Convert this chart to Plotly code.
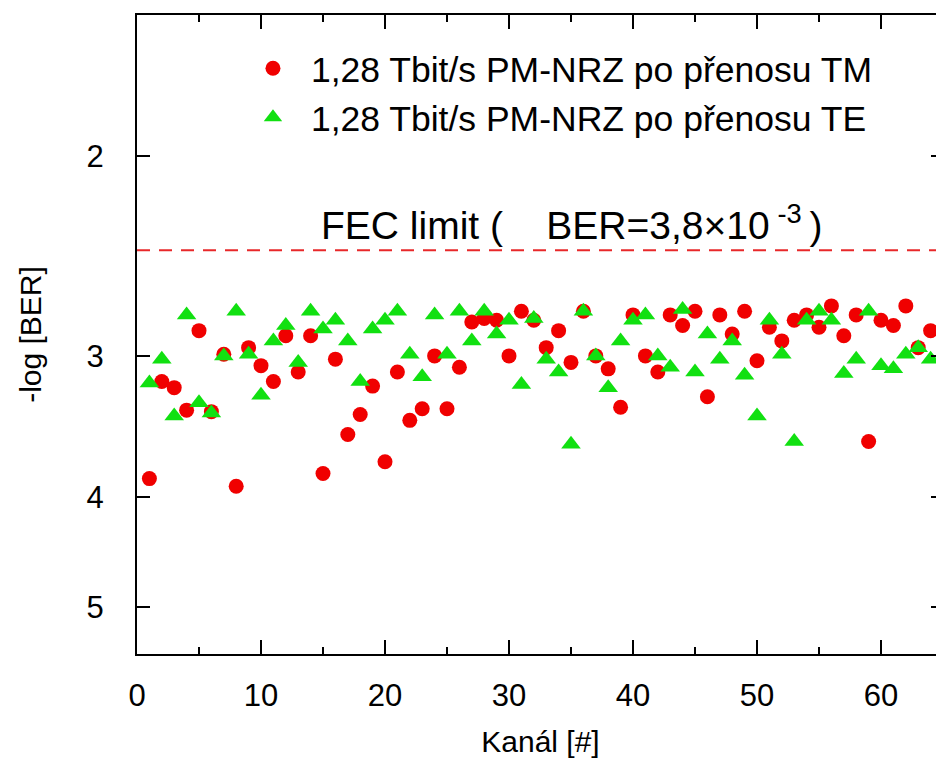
import plotly.graph_objects as go

# Channel numbers
channels = list(range(1, 65))

# -log(BER) after transmission, TM polarisation (red circles)
tm_values = [3.85, 3.16, 3.20, 3.35, 2.85, 3.36, 2.99, 3.91, 2.95, 3.06,
             3.16, 2.88, 3.10, 2.88, 3.81, 3.02, 3.52, 3.38, 3.19, 3.72,
             3.10, 3.42, 3.34, 3.00, 3.34, 3.07, 2.80, 2.78, 2.79, 3.00,
             2.74, 2.79, 2.95, 2.85, 3.04, 2.74, 3.00, 3.08, 3.33, 2.76,
             3.00, 3.10, 2.76, 2.82, 2.74, 3.26, 2.76, 2.87, 2.74, 3.03,
             2.83, 2.91, 2.79, 2.76, 2.83, 2.71, 2.88, 2.76, 3.57, 2.79,
             2.82, 2.71, 2.95, 2.85]

# -log(BER) after transmission, TE polarisation (green triangles)
te_values = [3.17, 3.02, 3.39, 2.76, 3.30, 3.37, 3.00, 2.74, 2.99, 3.25,
             2.91, 2.82, 3.04, 2.74, 2.84, 2.79, 2.91, 3.16, 2.84, 2.79,
             2.74, 2.99, 3.13, 2.76, 2.99, 2.74, 2.91, 2.74, 2.87, 2.79,
             3.18, 2.78, 3.02, 3.10, 3.59, 2.74, 3.00, 3.20, 2.91, 2.79,
             2.76, 3.00, 3.07, 2.73, 3.10, 2.87, 3.02, 2.91, 3.12, 3.39,
             2.79, 2.99, 3.57, 2.79, 2.74, 2.79, 3.11, 3.02, 2.74, 3.06,
             3.08, 2.99, 2.95, 3.02]

fec_limit = 2.42          # -log10(3.8e-3)
x_range = [0, 65.08]
y_range = [1.5, 5.5]
x_tick_vals = [0, 10, 20, 30, 40, 50, 60]
y_tick_vals = [2, 3, 4, 5]

series_names = ["1,28 Tbit/s PM-NRZ po přenosu TM",
                "1,28 Tbit/s PM-NRZ po přenosu TE"]

FONT = "Liberation Sans, Arial, sans-serif"

fig = go.Figure()

fig.add_trace(go.Scatter(
    x=x_range, y=[fec_limit, fec_limit], mode="lines",
    line=dict(color="#e8282a", width=2.2, dash="13px,9px"),
    showlegend=False, hoverinfo="skip"))

fig.add_trace(go.Scatter(
    x=channels, y=tm_values, mode="markers", name=series_names[0],
    marker=dict(symbol="circle", size=15, color="#f00000",
                line=dict(width=0))))

fig.add_trace(go.Scatter(
    x=channels, y=te_values, mode="markers", name=series_names[1],
    marker=dict(symbol="triangle-up", size=17, color="#11e011",
                line=dict(width=0))))

fig.add_annotation(
    xref="paper", yref="paper", x=0.2258, y=0.676,
    xanchor="left", yanchor="middle", showarrow=False,
    text=("FEC limit (\u00a0\u00a0\u00a0\u00a0BER=3,8×10\u2009"
          "<sup>-3</sup>\u2009)"),
    font=dict(family=FONT, size=39, color="black"))

fig.update_layout(
    width=944, height=758,
    margin=dict(l=137, r=0, t=15, b=104),
    paper_bgcolor="white", plot_bgcolor="white",
    font=dict(family=FONT, color="black"),
    legend=dict(x=0.1214, y=0.963, xanchor="left", yanchor="top",
                bgcolor="rgba(0,0,0,0)", font=dict(family=FONT, size=35.5),
                itemwidth=66, traceorder="normal"),
    xaxis=dict(
        range=x_range, tickvals=x_tick_vals, ticks="inside", ticklen=14,
        tickwidth=2, tickcolor="black", showline=True, linewidth=2,
        linecolor="black", mirror="ticks", showgrid=False, zeroline=False,
        tickfont=dict(size=31), ticklabelstandoff=13, automargin=False,
        minor=dict(dtick=5, tick0=0, ticks="inside", ticklen=7,
                   tickwidth=2, tickcolor="black", showgrid=False),
        title=dict(text="Kanál [#]", font=dict(size=30), standoff=22)),
    yaxis=dict(
        type="log", range=[0.740363, 0.176091], tickvals=y_tick_vals,
        ticktext=[str(v) for v in y_tick_vals],
        ticks="inside", ticklen=13, tickwidth=2, tickcolor="black",
        showline=True, linewidth=2, linecolor="black", mirror="ticks",
        showgrid=False, zeroline=False, tickfont=dict(size=31),
        ticklabelstandoff=25, automargin=False,
        title=dict(text="-log [BER]", font=dict(size=30), standoff=36)),
)

fig.write_html(
    "out.html",
    config={"displayModeBar": False},
    post_script=("document.body.style.margin='0';"
                 "document.body.style.overflow='hidden';"
                 "document.documentElement.style.overflow='hidden';"))
